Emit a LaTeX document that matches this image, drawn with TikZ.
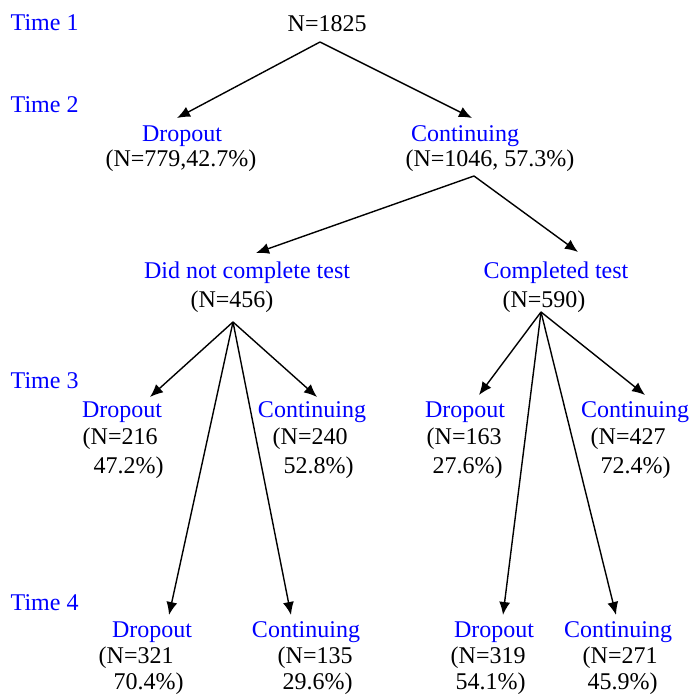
\documentclass[tikz,border=0pt]{standalone}
\usepackage{fontspec}
\setmainfont{Liberation Serif}
\usetikzlibrary{arrows.meta}

\begin{document}
\begin{tikzpicture}[x=1pt,y=-1pt,line width=1.4pt,
    font=\fontsize{24}{28}\selectfont,
    tm/.style={text=blue,anchor=base west,inner sep=0pt},
    grp/.style={text=blue,anchor=base,inner sep=0pt},
    cnt/.style={anchor=base,inner sep=0pt},
    cntl/.style={anchor=base west,inner sep=0pt},
    arr/.style={-{Latex[length=13pt,width=11pt]}}]
  \useasboundingbox (0,0) rectangle (691,700);

  % time labels
  \node[tm] (time1) at (10,31) {Time 1};
  \node[tm] (time2) at (10,113) {Time 2};
  \node[tm] (time3) at (10,388) {Time 3};
  \node[tm] (time4) at (10,610) {Time 4};

  % time 1 and 2
  \node[cntl] (all) at (287,32) {N=1825};
  \node[grp] (drop2) at (182,142) {Dropout};
  \node[cnt] (drop2n) at (181,167) {(N=779,42.7\%)};
  \node[grp] (cont2) at (465,142) {Continuing};
  \node[cnt] (cont2n) at (490,167) {(N=1046, 57.3\%)};

  % test groups
  \node[grp] (notest) at (247,278) {Did not complete test};
  \node[cnt] (notestn) at (232,307) {(N=456)};
  \node[grp] (test) at (556,278) {Completed test};
  \node[cnt] (testn) at (544,307) {(N=590)};

  % time 3
  \node[grp] (drop3a) at (122,417) {Dropout};
  \node[cntl] (drop3an) at (82,444) {(N=216};
  \node[cntl] (drop3ap) at (93,473) {47.2\%)};
  \node[grp] (cont3a) at (312,417) {Continuing};
  \node[cntl] (cont3an) at (272,444) {(N=240};
  \node[cntl] (cont3ap) at (283,473) {52.8\%)};
  \node[grp] (drop3b) at (465,417) {Dropout};
  \node[cntl] (drop3bn) at (426,444) {(N=163};
  \node[cntl] (drop3bp) at (432,473) {27.6\%)};
  \node[grp] (cont3b) at (635,417) {Continuing};
  \node[cntl] (cont3bn) at (590,444) {(N=427};
  \node[cntl] (cont3bp) at (600,473) {72.4\%)};

  % time 4
  \node[grp] (drop4a) at (152,637) {Dropout};
  \node[cntl] (drop4an) at (98,663) {(N=321};
  \node[cntl] (drop4ap) at (113,689) {70.4\%)};
  \node[grp] (cont4a) at (306,637) {Continuing};
  \node[cntl] (cont4an) at (277,663) {(N=135};
  \node[cntl] (cont4ap) at (282,689) {29.6\%)};
  \node[grp] (drop4b) at (494,637) {Dropout};
  \node[cntl] (drop4bn) at (450,663) {(N=319};
  \node[cntl] (drop4bp) at (455,689) {54.1\%)};
  \node[grp] (cont4b) at (618,637) {Continuing};
  \node[cntl] (cont4bn) at (582,663) {(N=271};
  \node[cntl] (cont4bp) at (587,689) {45.9\%)};

  % split points and arrow ends
  \coordinate (s-all) at (320,42);
  \coordinate (s-cont2) at (474,176);
  \coordinate (s-notest) at (233,322);
  \coordinate (s-test) at (541,312);
  \coordinate (e-drop2) at (177,118);
  \coordinate (e-cont2) at (472,118);
  \coordinate (e-notest) at (256,253);
  \coordinate (e-test) at (578,252);
  \coordinate (e-drop3a) at (150,397);
  \coordinate (e-cont3a) at (317,397);
  \coordinate (e-drop4a) at (169,615);
  \coordinate (e-cont4a) at (291,615);
  \coordinate (e-drop3b) at (479,395);
  \coordinate (e-cont3b) at (645,395);
  \coordinate (e-drop4b) at (503,615);
  \coordinate (e-cont4b) at (616,615);

  \foreach \e in {drop2,cont2}
    \draw[arr] (s-all) -- (e-\e);
  \foreach \e in {notest,test}
    \draw[arr] (s-cont2) -- (e-\e);
  \foreach \e in {drop3a,cont3a,drop4a,cont4a}
    \draw[arr] (s-notest) -- (e-\e);
  \foreach \e in {drop3b,cont3b,drop4b,cont4b}
    \draw[arr] (s-test) -- (e-\e);
\end{tikzpicture}
\end{document}
